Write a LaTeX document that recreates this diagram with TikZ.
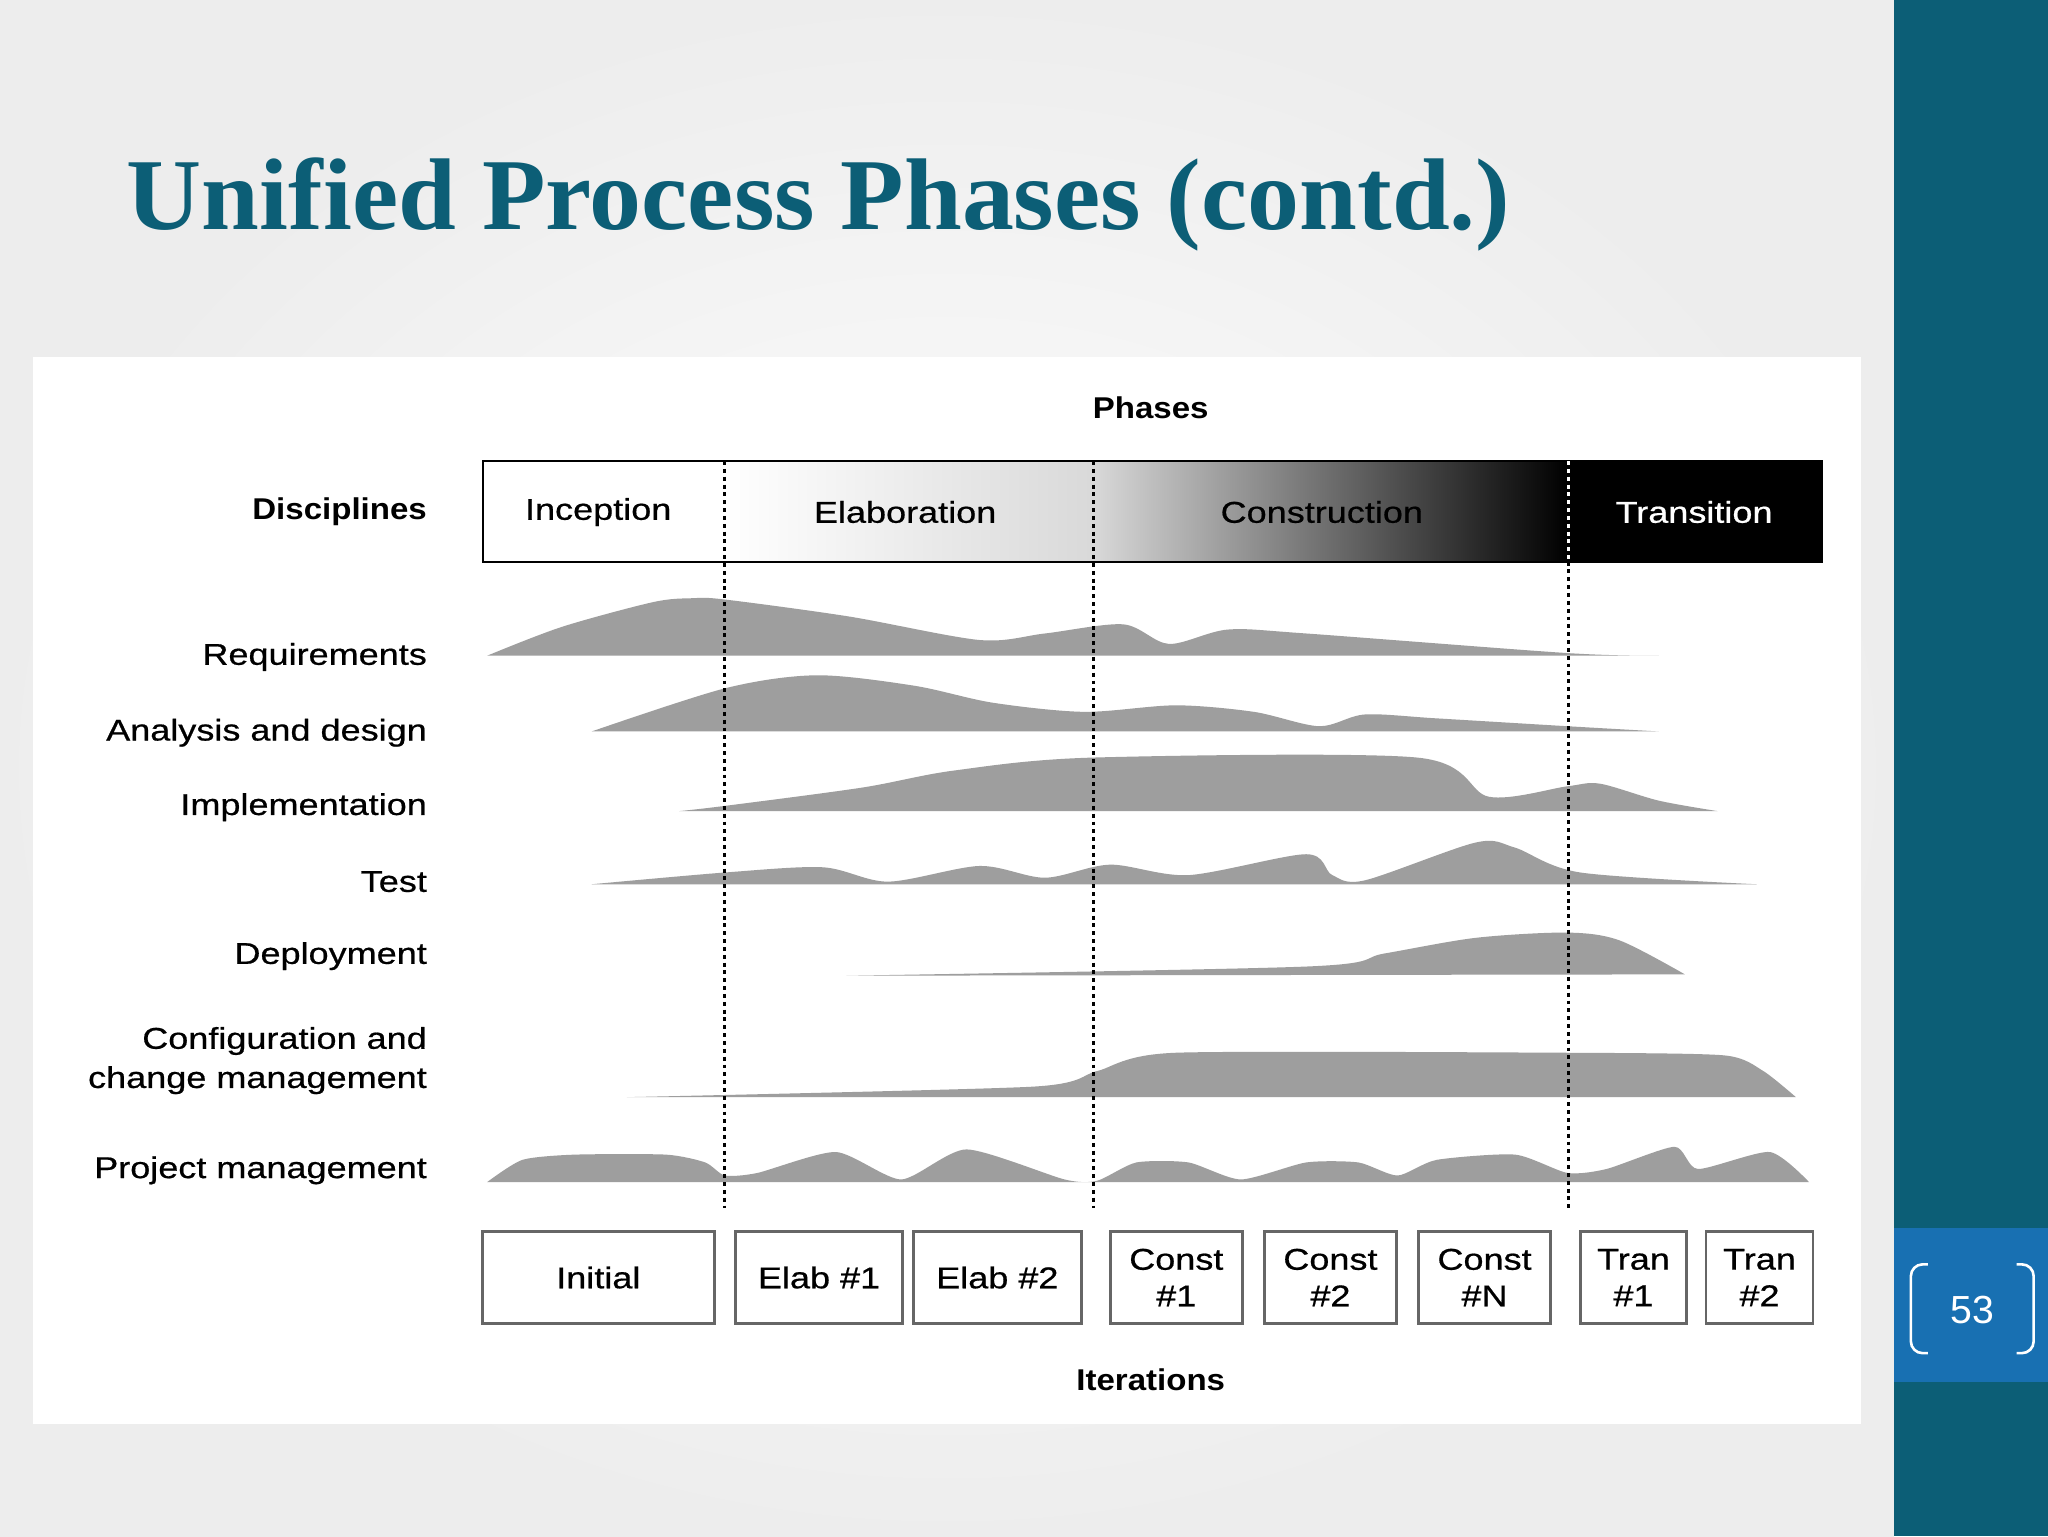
\documentclass[tikz,border=0pt]{standalone}
\usepackage{fontspec}
\setmainfont{Liberation Serif}
\setsansfont{Liberation Sans}
\newfontfamily\diag[FakeStretch=1.2,FakeBold=0.6]{Liberation Sans}
\newfontfamily\diagb[FakeStretch=1.1]{Liberation Sans Bold}
\usetikzlibrary{shadings}
\definecolor{teal1}{RGB}{12,94,118}
\definecolor{numblue}{RGB}{24,112,178}
\definecolor{hump}{RGB}{158,158,158}
\tikzset{
 lab/.style={font=\diag\fontsize{23}{30}\selectfont, anchor=east, inner sep=0pt, align=right},
 hd/.style={font=\diagb\fontsize{23}{25}\selectfont, inner sep=0pt},
 ph/.style={font=\diag\fontsize{23}{25}\selectfont, inner sep=0pt},
 itbox/.style={draw=gray!80!black, line width=2.2pt, fill=white, font=\diag\fontsize{23}{28}\selectfont, align=center, inner sep=0pt, anchor=north west},
 dline/.style={line width=2.2pt, dash pattern=on 3pt off 3pt},
 hp/.style={fill=hump, draw=none}
}
\begin{document}
\begin{tikzpicture}[x=1pt,y=-1pt]
\useasboundingbox (0,0) rectangle (1568,1176);
\shade[inner color=white, outer color=gray!14] (0,0) rectangle (1450,1176);
\fill[teal1] (1450,0) rectangle (1568,1176);
\fill[numblue] (1450,940) rectangle (1568,1058);
\node[text=white, font=\sffamily\fontsize{30}{32}\selectfont] (num) at (1510,1003) {53};
\draw[white, line width=2pt, rounded corners=9] (1476,968) -- (1463,968) -- (1463,1036) -- (1476,1036);
\draw[white, line width=2pt, rounded corners=9] (1544,968) -- (1557,968) -- (1557,1036) -- (1544,1036);
\node[anchor=base west, inner sep=0pt, text=teal1, font=\bfseries\fontsize{78}{80}\selectfont] (title) at (97,176) {\scalebox{1.02}[1]{Unified Process Phases (contd.)}};
\fill[white] (25,273) rectangle (1425,1090);
% phases bar
\fill[white] (370,353) rectangle (555,430);
\shade[left color=white, right color=white!85!black] (555,353) rectangle (837,430);
\shade[left color=white!85!black, right color=black] (837,353) rectangle (1201,430);
\fill[black] (1201,353) rectangle (1395,430);
\draw[line width=1.5pt] (370,353) rectangle (1395,430);
\node[hd] (phases) at (881,312) {Phases};
\node[hd] (iters) at (881,1056) {Iterations};
\node[hd, anchor=east] (disc) at (327,392) {Disciplines};
\node[ph] (inc) at (458,392) {Inception};
\node[ph] (ela) at (693,392) {Elaboration};
\node[ph] (con) at (1012,392) {Construction};
\node[ph, text=white] (tra) at (1297,392) {Transition};
% labels
\node[lab] (l1) at (327,503) {Requirements};
\node[lab] (l2) at (327,561) {Analysis and design};
\node[lab] (l3) at (327,618) {Implementation};
\node[lab] (l4) at (327,675) {Test};
\node[lab] (l5) at (327,732) {Deployment};
\node[lab] (l6) at (327,812) {Configuration and\\change management};
\node[lab] (l7) at (327,896) {Project management};
% humps
\fill[hp] plot[smooth,tension=0.5] coordinates {(373,502) (430,480) (500,461) (530,458) (555,459) (650,472) (750,490) (800,485) (860,478) (895,493) (940,482) (1000,485) (1200,500) (1270,502)} -- cycle;
\fill[hp] plot[smooth,tension=0.5] coordinates {(453,560) (555,527) (625,517) (700,525) (760,538) (830,545) (900,540) (960,545) (1010,556) (1045,547) (1100,550) (1200,556) (1270,560)} -- cycle;
\fill[hp] plot[smooth,tension=0.5] coordinates {(520,621) (555,617) (660,603) (730,590) (837,580) (1085,580) (1140,610) (1200,602) (1225,600) (1270,613) (1315,621)} -- cycle;
\fill[hp] plot[smooth,tension=0.5] coordinates {(453,677) (555,668) (630,664) (680,675) (750,663) (800,672) (850,662) (910,670) (1000,654) (1020,670) (1045,674) (1130,645) (1160,649) (1210,668) (1345,677)} -- cycle;
\fill[hp] plot[smooth,tension=0.5] coordinates {(648,747) (1000,740) (1060,730) (1130,718) (1200,714) (1240,720) (1290,746)} -- cycle;
\fill[hp] plot[smooth,tension=0.4] coordinates {(480,840) (790,832) (840,820) (900,806) (1200,806) (1320,808) (1350,820) (1375,840)} -- cycle;
\fill[hp] plot[smooth,tension=0.4] coordinates {(373,905) (400,888) (440,884) (510,884) (540,890) (555,900) (580,898) (640,882) (690,903) (740,880) (815,903) (840,904) (870,890) (910,890) (950,903) (1000,890) (1040,890) (1070,900) (1100,888) (1160,884) (1200,898) (1230,895) (1282,878) (1300,895) (1355,882) (1385,905)} -- cycle;
% dotted lines
\coordinate (d1t) at (555,353); \coordinate (d1b) at (555,925);
\coordinate (d2t) at (837,353); \coordinate (d2b) at (837,925);
\coordinate (d3t) at (1201,353); \coordinate (d3b) at (1201,925);
\draw[dline] (d1t) -- (d1b);
\draw[dline] (d2t) -- (d2b);
\draw[dline, white] (d3t) -- ++(0,77);
\draw[dline] (1201,430) -- (d3b);
% iterations
\node[itbox, minimum width=178pt, minimum height=70pt] (i1) at (368,942) {Initial};
\node[itbox, minimum width=128pt, minimum height=70pt] (i2) at (562,942) {Elab \#1};
\node[itbox, minimum width=129pt, minimum height=70pt] (i3) at (698,942) {Elab \#2};
\node[itbox, minimum width=101pt, minimum height=70pt] (i4) at (849,942) {Const\\\#1};
\node[itbox, minimum width=101pt, minimum height=70pt] (i5) at (967,942) {Const\\\#2};
\node[itbox, minimum width=101pt, minimum height=70pt] (i6) at (1085,942) {Const\\\#N};
\node[itbox, minimum width=81pt, minimum height=70pt] (i7) at (1209,942) {Tran\\\#1};
\node[itbox, minimum width=82pt, minimum height=70pt] (i8) at (1305,942) {Tran\\\#2};
\end{tikzpicture}
\end{document}
